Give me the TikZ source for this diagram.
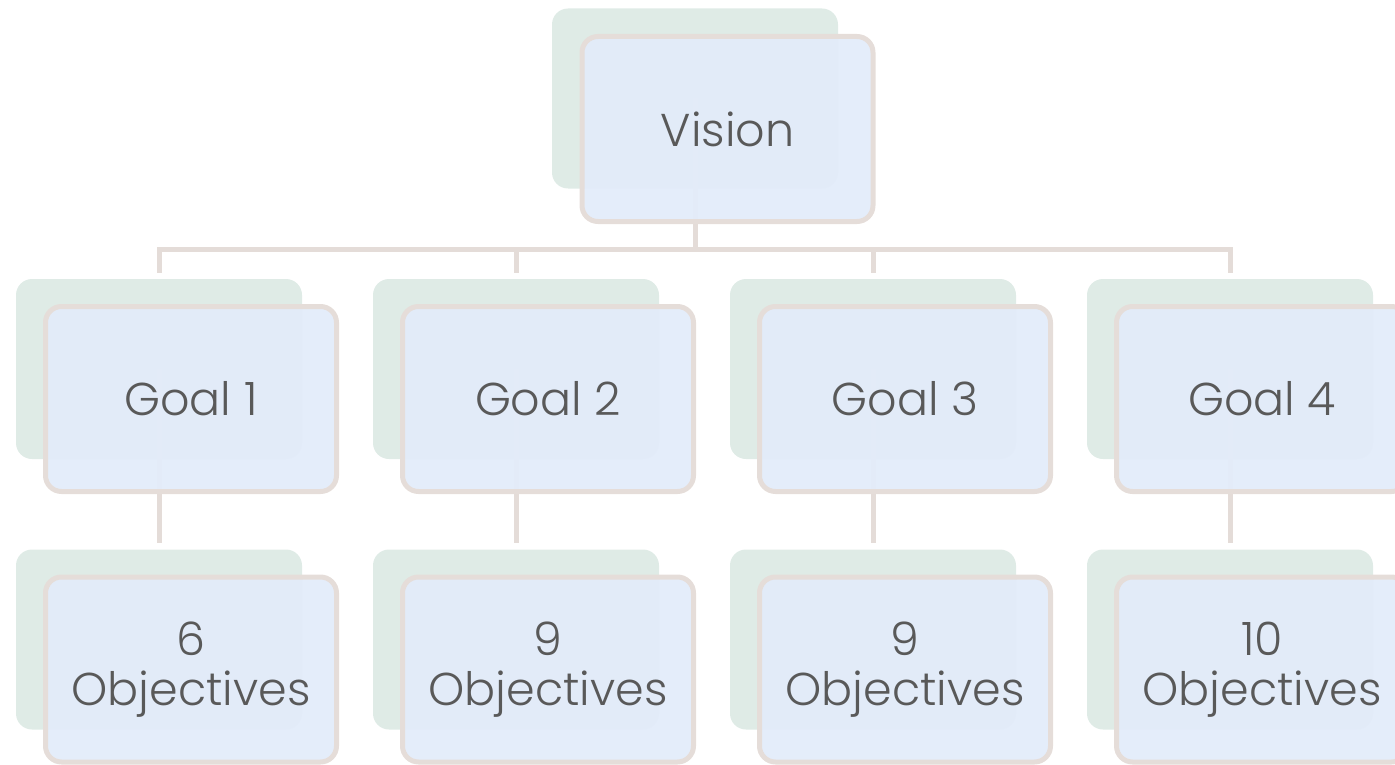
\documentclass[tikz,border=0pt]{standalone}
\usepackage{fontspec}
\setmainfont{Poppins Light}
\usetikzlibrary{calc}
\definecolor{conncol}{HTML}{E4DCD8}
\definecolor{backcol}{HTML}{DFEBE6}
\definecolor{frontcol}{HTML}{E3ECFA}
\definecolor{bordcol}{HTML}{E5DDD9}
\definecolor{txtcol}{HTML}{595959}
\tikzset{
  conn/.style={draw=conncol, line width=5pt},
  backbox/.style={rectangle, rounded corners=16pt, fill=backcol, draw=none,
    minimum width=286pt, minimum height=180pt, inner sep=0pt},
  frontbox/.style={rectangle, rounded corners=16pt, fill=frontcol, fill opacity=0.95,
    text opacity=1, draw=bordcol, draw opacity=1, line width=5pt, text=txtcol,
    minimum width=291pt, minimum height=185pt, inner sep=0pt, align=center,
    font=\fontsize{46}{50}\selectfont},
}
\begin{document}
\begin{tikzpicture}[x=1pt,y=-1pt]
\useasboundingbox (0,0) rectangle (1395,765);
% back boxes
\node[backbox] (vb) at (695,98.5) {};
\foreach \i/\x in {1/159,2/516,3/873,4/1230}{
  \node[backbox] (g\i b) at (\x,369) {};
  \node[backbox] (o\i b) at (\x,639.5) {};
}
% connectors (behind front boxes)
\coordinate (bus) at (695,249);
\foreach \i in {1,...,4}{
  \coordinate (t\i) at ($(g\i b.north)+(0,-6)$);
  \coordinate (u\i) at ($(o\i b.north)+(0,-6)$);
}
\draw[conn] (vb.center) -- (vb.center |- bus);
\draw[conn] (t1) -- (t1 |- bus) -- (t4 |- bus) -- (t4);
\draw[conn] (t2) -- (t2 |- bus);
\draw[conn] (t3) -- (t3 |- bus);
\foreach \i in {1,...,4}{
  \draw[conn] (g\i b.center) -- (u\i);
}
% front boxes
\node[frontbox] (vf) at (727.5,129) {Vision};
\node[frontbox] (g1f) at (191,399) {Goal 1};
\node[frontbox] (g2f) at (548,399) {Goal 2};
\node[frontbox] (g3f) at (905,399) {Goal 3};
\node[frontbox] (g4f) at (1262,399) {Goal 4};
\node[frontbox] (o1f) at (191,669.5) {6\\Objectives};
\node[frontbox] (o2f) at (548,669.5) {9\\Objectives};
\node[frontbox] (o3f) at (905,669.5) {9\\Objectives};
\node[frontbox] (o4f) at (1262,669.5) {10\\Objectives};
\end{tikzpicture}
\end{document}
